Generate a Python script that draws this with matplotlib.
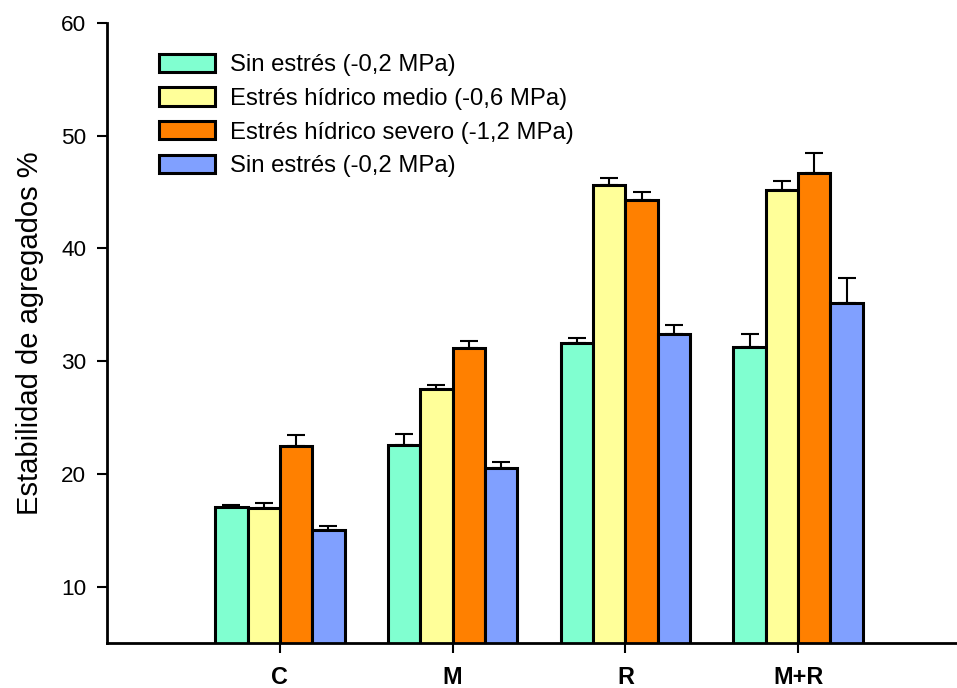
import numpy as np
import matplotlib
matplotlib.use("Agg")
import matplotlib.pyplot as plt

plt.rcParams['font.family'] = ['Liberation Sans', 'DejaVu Sans']

# Datos
grupos = ['C', 'M', 'R', 'M+R']
series = ['Sin estrés (-0,2 MPa)',
          'Estrés hídrico medio (-0,6 MPa)',
          'Estrés hídrico severo (-1,2 MPa)',
          'Sin estrés (-0,2 MPa)']
sin_estres = [17.1, 22.6, 31.6, 31.3]
medio = [16.95, 27.5, 45.6, 45.15]
severo = [22.45, 31.2, 44.3, 46.65]
sin_estres2 = [15.05, 20.5, 32.4, 35.2]
err_sin_estres = [0.1, 0.9, 0.45, 1.1]
err_medio = [0.5, 0.35, 0.65, 0.8]
err_severo = [1.0, 0.6, 0.7, 1.85]
err_sin_estres2 = [0.3, 0.55, 0.8, 2.2]

valores = [sin_estres, medio, severo, sin_estres2]
errores = [err_sin_estres, err_medio, err_severo, err_sin_estres2]
colores = ['#80FFD0', '#FFFF99', '#FF8000', '#80A0FF']

fig = plt.figure(figsize=(9.57, 6.88), dpi=100)
ax = fig.add_axes([0.112, 0.0654, 0.888, 0.9012])

x = np.arange(1, len(grupos) + 1)
ancho = 0.187
for i in range(4):
    pos = x + (i - 1.5) * ancho
    ax.bar(pos, valores[i], ancho, bottom=0, color=colores[i], edgecolor='black',
           linewidth=2.2, label=series[i], zorder=2)
    ax.errorbar(pos, valores[i], yerr=[np.zeros(4), errores[i]], fmt='none',
                ecolor='black', elinewidth=1.5, capsize=6.5, capthick=1.5, zorder=1)

ax.set_xlim(0, 4.92)
ax.set_ylim(5, 60)
ax.set_yticks([10, 20, 30, 40, 50, 60])
ax.set_xticks(x)
ax.set_xticklabels(grupos, fontweight='bold')
ax.tick_params(axis='x', labelsize=16.8, length=7, width=1.5, pad=9.5)
ax.tick_params(axis='y', labelsize=16.2, length=7, width=1.5, pad=8)
ax.set_ylabel('Estabilidad de agregados %', fontsize=21, labelpad=12)

for s in ['top', 'right']:
    ax.spines[s].set_visible(False)
for s in ['left', 'bottom']:
    ax.spines[s].set_linewidth(2)

leg = ax.legend(loc='upper left', bbox_to_anchor=(0.036, 0.985), frameon=False,
                fontsize=17.2, handlelength=2.35, handleheight=0.8,
                labelspacing=0.47, handletextpad=0.6)

fig.savefig('out.png', dpi=100)
